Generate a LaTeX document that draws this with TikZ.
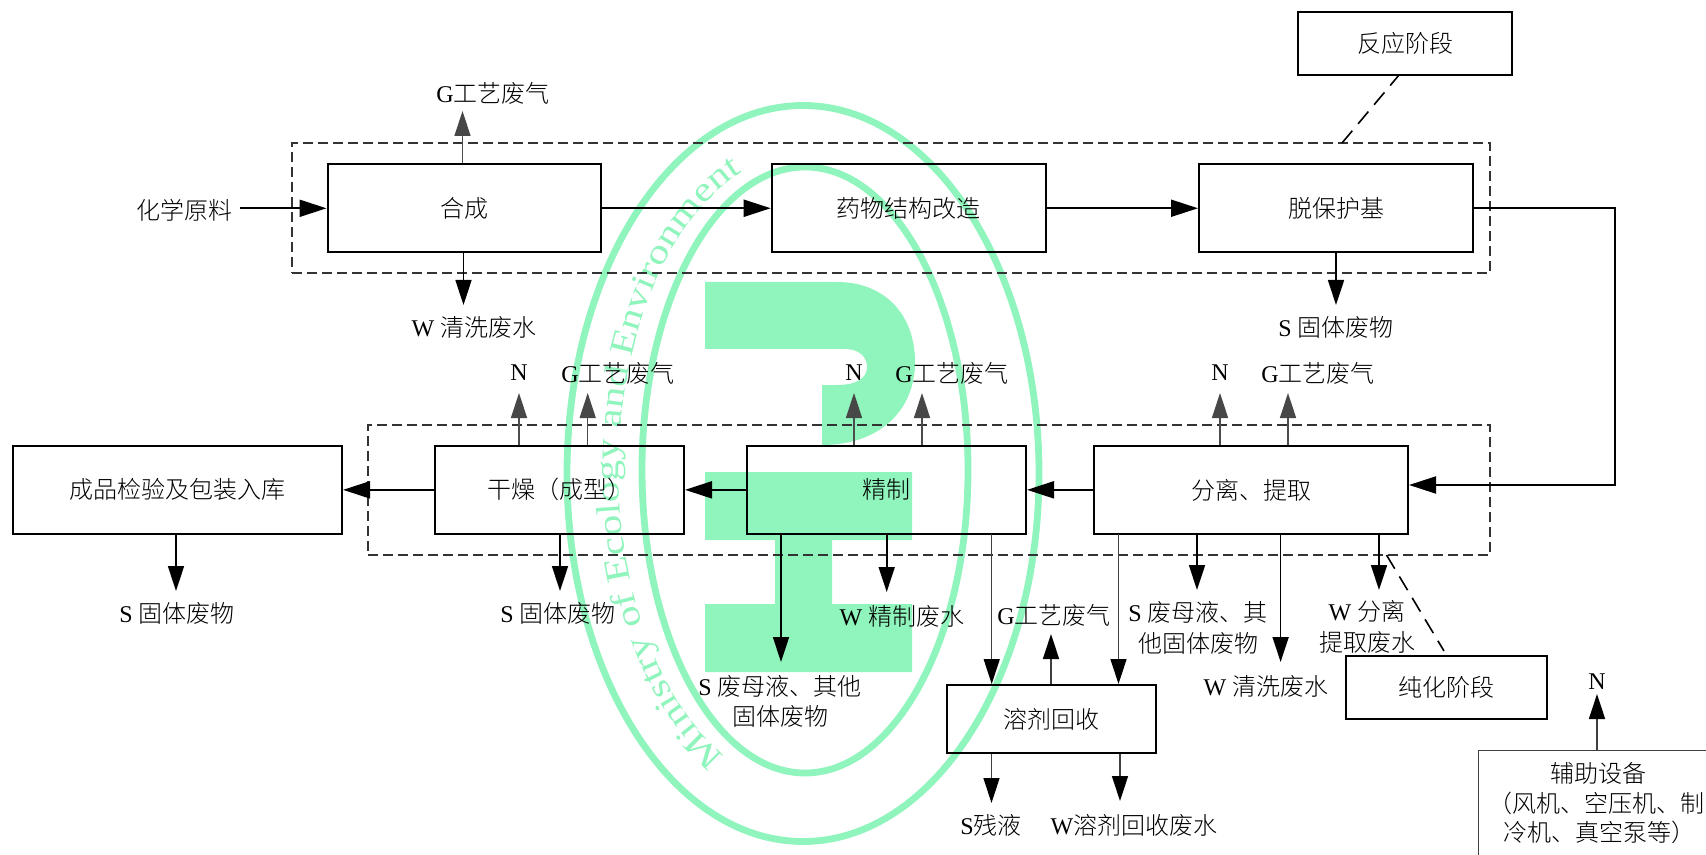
\documentclass[tikz,border=0pt]{standalone}
\usepackage{fontspec}
\setmainfont{Noto Sans CJK SC}[UprightFont=* Light]
\newfontfamily\latf{Liberation Serif}
\newfontfamily\wmf{Liberation Serif}[FakeStretch=1.25]
\usetikzlibrary{arrows.meta,decorations.text}
\definecolor{wm}{HTML}{90F5BC}
\newcommand\lat[1]{{\latf #1}}
\newcommand\bx[6]{\node[boxn,minimum width={(#4-#2)*0.5pt},minimum height={(#5-#3)*0.5pt}] (#1) at ({(#2+#4)/2},{(#3+#5)/2}) {\raisebox{-0.7pt}{#6}};}
\tikzset{
  boxn/.style={draw=black,line width=1pt,inner sep=0pt,align=center,font=\fontsize{12}{14}\selectfont},
  lab/.style={inner sep=0pt,align=center,font=\fontsize{12}{15.3}\selectfont},
  arr/.style={line width=0.8pt,draw=black,-{Triangle[length=12.5pt,width=8pt,color=black,fill=black]}},
  arrb/.style={line width=1pt,draw=black,-{Triangle[length=13.5pt,width=8.5pt,color=black,fill=black]}},
  arrs/.style={line width=0.7pt,draw=black!75,-{Triangle[length=12.5pt,width=8pt,color=black,fill=black]}},
  arrg/.style={line width=0.7pt,draw=black!70,-{Triangle[length=12.5pt,width=8pt,color=black!72,fill=black!72]}},
  dbox/.style={draw=black!80,line width=0.6pt,dash pattern=on 5pt off 2.5pt,inner sep=0pt},
  dlink/.style={draw=black,line width=0.8pt,dash pattern=on 8pt off 4.5pt},
  wmring/.style={draw=wm,line width=3.4pt},
}
\begin{document}
\begin{tikzpicture}[x=0.5pt,y=-0.5pt]
\clip (0,0) rectangle (1706,855);
\fill[white] (0,0) rectangle (1706,855);
% watermark
\draw[wmring] (803,473.5) ellipse [x radius=236,y radius=368];
\draw[wmring] (805,470) ellipse [x radius=163,y radius=303];
\fill[wm] (705,282) -- (837,282) .. controls (885,282) and (915,315) .. (915,362)
  .. controls (915,410) and (880,445) .. (822,445) -- (822,385) -- (837,385)
  .. controls (857,385) and (867,378) .. (867,367) .. controls (867,356) and (858,349) .. (845,349)
  -- (705,349) -- cycle;
\fill[wm] (705,472) -- (912,472) -- (912,540) -- (832,540) -- (832,604) -- (912,604) -- (912,672)
  -- (705,672) -- (705,604) -- (775,604) -- (775,540) -- (705,540) -- cycle;
\path[postaction={decorate},decoration={text along path,text align={center},
  text={|\wmf\fontsize{17}{17}\selectfont\color{wm}|Ministry of Ecology and Environment}}]
  ([shift={(805,470)}]112:186 and 316) arc[start angle=112,end angle=254,x radius=186,y radius=316];
% dashed regions
\node[dbox,minimum width=599pt,minimum height=65pt] (stageA) at (891,208) {};
\node[dbox,minimum width=561pt,minimum height=65pt] (stageB) at (929,490) {};
% boxes
\bx{hecheng}{327.5}{164}{601}{252.5}{合成}
\bx{yaowu}{771.7}{164}{1045.6}{252.5}{药物结构改造}
\bx{tuobao}{1199}{164}{1473}{252.5}{脱保护基}
\bx{fanying}{1298}{12}{1512}{75}{反应阶段}
\bx{fenli}{1094}{445.7}{1408}{534}{分离、提取}
\bx{jingzhi}{746.7}{445.7}{1026}{534}{精制}
\bx{ganzao}{435}{445.7}{684}{534}{干燥（成型）}
\bx{chengpin}{13}{445.7}{342}{534}{成品检验及包装入库}
\bx{rongji}{946.7}{685}{1156}{752.7}{溶剂回收}
\bx{chunhua}{1346}{655.7}{1547}{719}{纯化阶段}
\node[draw=black!75,line width=0.7pt,minimum width=300pt,minimum height=100pt,anchor=north west,inner sep=0pt] (fuzhu) at (1478,749.5) {};
% labels
\node[lab] (t1) at (493,93) {\lat{G}工艺废气};
\node[lab] (t2) at (184,210) {化学原料};
\node[lab] (t3) at (474,327) {\lat{W }清洗废水};
\node[lab] (t4) at (1336,327) {\lat{S }固体废物};
\node[lab] (n1) at (519,373) {\lat{N}};
\node[lab] (g1) at (618,373) {\lat{G}工艺废气};
\node[lab] (n2) at (854,373) {\lat{N}};
\node[lab] (g2) at (952,373) {\lat{G}工艺废气};
\node[lab] (n3) at (1220,373) {\lat{N}};
\node[lab] (g3) at (1318,373) {\lat{G}工艺废气};
\node[lab] (s1) at (177,613) {\lat{S }固体废物};
\node[lab] (s2) at (558,613) {\lat{S }固体废物};
\node[lab] (s3) at (780,701.5) {\lat{S }废母液、其他\\固体废物};
\node[lab] (w1) at (902,616) {\lat{W }精制废水};
\node[lab] (g4) at (1054,615) {\lat{G}工艺废气};
\node[lab] (s4) at (1198,628) {\lat{S }废母液、其\\他固体废物};
\node[lab] (w2) at (1266,686) {\lat{W }清洗废水};
\node[lab] (w3) at (1367,627) {\lat{W }分离\\提取废水};
\node[lab] (s5) at (991,825) {\lat{S}残液};
\node[lab] (w4) at (1134,825) {\lat{W}溶剂回收废水};
\node[lab] (n4) at (1597,682) {\lat{N}};
\node[lab] (f1) at (1598,773) {辅助设备};
\node[lab,anchor=west] (f2) at (1488,803) {（风机、空压机、制};
\node[lab,anchor=west] (f3) at (1503,832) {冷机、真空泵等）};
% free arrow ends
\coordinate (e1) at (462.5,111);
\coordinate (e2) at (463.5,305);
\coordinate (e3) at (1336,305);
\coordinate (e4) at (240,208.3);
\coordinate (e5) at (519,393);
\coordinate (e6) at (587.7,393);
\coordinate (e7) at (854,393);
\coordinate (e8) at (922,393);
\coordinate (e9) at (1220,393);
\coordinate (e10) at (1288,393);
\coordinate (e11) at (176,591);
\coordinate (e12) at (560,591);
\coordinate (e13) at (781,662);
\coordinate (e14) at (886.7,592);
\coordinate (e15) at (1197,590);
\coordinate (e16) at (1280.6,662);
\coordinate (e17) at (1379,590);
\coordinate (e18) at (1051,634);
\coordinate (e19) at (991.5,803);
\coordinate (e20) at (1120,801);
\coordinate (e21) at (1597,694);
\coordinate (x1) at (991.7,534);
\coordinate (x2) at (1118.5,534);
\coordinate (rc) at (1614.5,485);
\coordinate (p1) at (1342,143);
\coordinate (p2) at (1399,75);
\coordinate (p3) at (1386.5,555);
\coordinate (p4) at (1444,651);
% connectors
\draw[arrb] (e4) -- (hecheng.west |- e4);
\draw[arrb] (hecheng.east) -- (yaowu.west);
\draw[arrb] (yaowu.east) -- (tuobao.west);
\draw[arrb] (tuobao.east) -| (rc) -- (rc -| fenli.east);
\draw[arrb] (fenli.west) -- (jingzhi.east);
\draw[arrb] (jingzhi.west) -- (ganzao.east);
\draw[arrb] (ganzao.west) -- (chengpin.east);
\draw[arrg] (e1 |- hecheng.north) -- (e1);
\draw[arr] (e2 |- hecheng.south) -- (e2);
\draw[arr] (e3 |- tuobao.south) -- (e3);
\draw[arrg] (e5 |- ganzao.north) -- (e5);
\draw[arrg] (e6 |- ganzao.north) -- (e6);
\draw[arrg] (e7 |- jingzhi.north) -- (e7);
\draw[arrg] (e8 |- jingzhi.north) -- (e8);
\draw[arrg] (e9 |- fenli.north) -- (e9);
\draw[arrg] (e10 |- fenli.north) -- (e10);
\draw[arr] (e11 |- chengpin.south) -- (e11);
\draw[arr] (e12 |- ganzao.south) -- (e12);
\draw[arr] (e13 |- jingzhi.south) -- (e13);
\draw[arr] (e14 |- jingzhi.south) -- (e14);
\draw[arr] (e15 |- fenli.south) -- (e15);
\draw[arr] (e16 |- fenli.south) -- (e16);
\draw[arr] (e17 |- fenli.south) -- (e17);
\draw[arrs] (x1) -- (x1 |- rongji.north);
\draw[arrs] (x2) -- (x2 |- rongji.north);
\draw[arrs] (e18 |- rongji.north) -- (e18);
\draw[arrs] (e19 |- rongji.south) -- (e19);
\draw[arrs] (e20 |- rongji.south) -- (e20);
\draw[arrs] (e21 |- fuzhu.north) -- (e21);
\draw[dlink] (p1) -- (p2);
\draw[dlink] (p3) -- (p4);
\end{tikzpicture}
\end{document}
